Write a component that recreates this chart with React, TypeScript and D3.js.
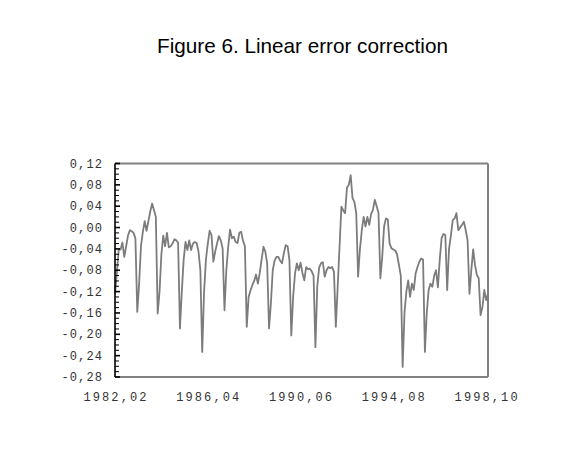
import React from "react";
import * as d3 from "d3";

const titleText = "Figure 6. Linear error correction";

// Monthly values, 1982:02 onwards
const errorValues: number[] = [
  -0.124, -0.085, -0.042, -0.041, -0.028, -0.055, -0.035, -0.015, -0.005, -0.007,
  -0.010, -0.020, -0.158, -0.105, -0.035, -0.008, 0.012, -0.006, 0.012, 0.030,
  0.045, 0.033, 0.020, -0.161, -0.120, -0.050, -0.015, -0.035, -0.010, -0.037,
  -0.035, -0.030, -0.022, -0.024, -0.028, -0.189, -0.120, -0.060, -0.027, -0.042,
  -0.024, -0.042, -0.030, -0.027, -0.029, -0.045, -0.080, -0.233, -0.120, -0.060,
  -0.030, -0.006, -0.014, -0.064, -0.045, -0.030, -0.016, -0.024, -0.039, -0.155,
  -0.080, -0.036, -0.004, -0.020, -0.017, -0.027, -0.029, -0.010, -0.008, -0.025,
  -0.035, -0.186, -0.130, -0.118, -0.108, -0.100, -0.088, -0.105, -0.085, -0.060,
  -0.036, -0.045, -0.067, -0.189, -0.142, -0.080, -0.062, -0.055, -0.055, -0.062,
  -0.067, -0.048, -0.033, -0.035, -0.061, -0.202, -0.130, -0.086, -0.067, -0.080,
  -0.066, -0.085, -0.099, -0.074, -0.078, -0.077, -0.082, -0.090, -0.224, -0.110,
  -0.075, -0.067, -0.065, -0.092, -0.080, -0.074, -0.076, -0.074, -0.083, -0.186,
  -0.111, -0.036, 0.039, 0.032, 0.027, 0.075, 0.080, 0.098, 0.055, 0.048,
  0.027, -0.092, -0.040, -0.005, 0.020, 0.002, 0.020, 0.005, 0.025, 0.033,
  0.052, 0.040, 0.027, -0.095, -0.055, 0.002, 0.017, 0.015, -0.030, -0.039,
  -0.041, -0.043, -0.050, -0.070, -0.090, -0.261, -0.160, -0.120, -0.099, -0.130,
  -0.105, -0.117, -0.086, -0.074, -0.064, -0.058, -0.060, -0.233, -0.160, -0.117,
  -0.105, -0.111, -0.090, -0.080, -0.112, -0.060, -0.020, -0.012, -0.014, -0.117,
  -0.040, -0.015, 0.014, 0.017, 0.027, -0.005, 0.000, 0.005, 0.011, -0.005,
  -0.024, -0.124, -0.080, -0.041, -0.070, -0.089, -0.095, -0.164, -0.149, -0.117,
  -0.136, -0.124,
];

const xTickIndex = [0, 50, 100, 150, 200];
const xTickLabels = ["1982,02", "1986,04", "1990,06", "1994,08", "1998,10"];

const yTickValues = [0.12, 0.08, 0.04, 0.0, -0.04, -0.08, -0.12, -0.16, -0.2, -0.24, -0.28];
const yTickLabels = ["0,12", "0,08", "0,04", "0,00", "-0,04", "-0,08", "-0,12", "-0,16", "-0,20", "-0,24", "-0,28"];

export default function App() {
  const W = 577;
  const H = 470;
  const left = 115;
  const right = 488;
  const top = 163.5;
  const bottom = 377;

  const x = d3.scaleLinear().domain([0, errorValues.length - 1]).range([left, right]);
  const y = d3.scaleLinear().domain([-0.28, 0.12]).range([bottom, top]);
  const line = d3
    .line<number>()
    .x((_, i) => x(i))
    .y((d) => y(d));

  const minorTicks = d3.range(-28, 13).map((k) => k / 100);
  const mono = "'Liberation Mono', 'DejaVu Sans Mono', monospace";

  return (
    <svg
      width={W}
      height={H}
      style={{ position: "absolute", left: 0, top: 0, background: "#fff" }}
    >
      <rect x={0} y={0} width={W} height={H} fill="#fff" />
      <text
        x={302.5}
        y={53}
        textAnchor="middle"
        fontFamily="'Liberation Sans', Arial, sans-serif"
        fontSize={20.7}
        fill="#000"
      >
        {titleText}
      </text>

      {/* frame: top, right, bottom in gray */}
      <line x1={left} x2={right} y1={top} y2={top} stroke="#808080" strokeWidth={2} />
      <line x1={right} x2={right} y1={top} y2={bottom} stroke="#808080" strokeWidth={2} />
      <line x1={left} x2={right} y1={bottom} y2={bottom} stroke="#808080" strokeWidth={2} />

      {/* data line */}
      <path d={line(errorValues) || ""} fill="none" stroke="#7c7c7c" strokeWidth={1.8} strokeLinejoin="round" />

      {/* left axis */}
      <line x1={left} x2={left} y1={top} y2={bottom} stroke="#000" strokeWidth={1.6} />
      {minorTicks.map((v, i) => {
        const major = Math.round(v * 100) % 4 === 0;
        return (
          <line
            key={"mt" + i}
            x1={left}
            x2={left + (major ? 5 : 4)}
            y1={y(v)}
            y2={y(v)}
            stroke="#000"
            strokeWidth={major ? 1.6 : 1}
          />
        );
      })}
      {yTickValues.map((v, i) => (
        <text
          key={"yl" + i}
          x={103}
          y={y(v) + 4}
          textAnchor="end"
          fontFamily={mono}
          fontSize={12}
          letterSpacing={1.1}
          fill="#333"
        >
          {yTickLabels[i]}
        </text>
      ))}

      {xTickIndex.map((idx, i) => (
        <text
          key={"xl" + i}
          x={x(idx) + 1}
          y={401}
          textAnchor="middle"
          fontFamily={mono}
          fontSize={12}
          letterSpacing={2.1}
          fill="#333"
        >
          {xTickLabels[i]}
        </text>
      ))}
    </svg>
  );
}
